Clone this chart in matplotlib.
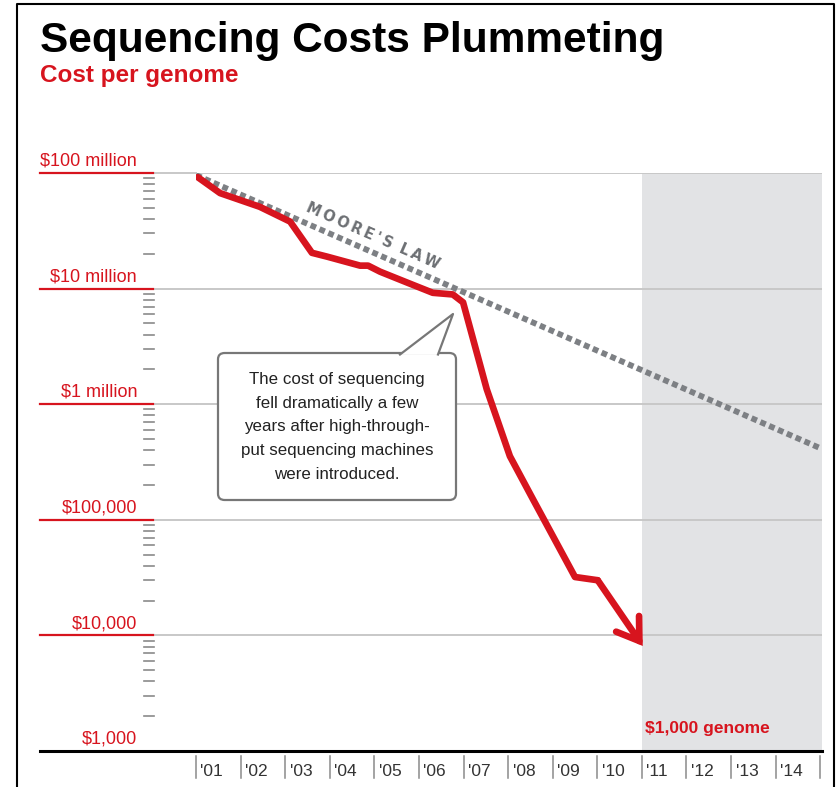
import numpy as np
import matplotlib
matplotlib.use('Agg')
from matplotlib import pyplot as plt
from matplotlib import transforms
from matplotlib.patches import FancyBboxPatch, Polygon
from matplotlib.lines import Line2D

# cost per genome
cost_years = [2001.04, 2001.54, 2002.43, 2003.11, 2003.6, 2003.94, 2004.68, 2004.86,
              2005.13, 2005.73, 2006.31, 2006.76, 2006.99, 2007.52, 2008.04, 2008.56,
              2009.5, 2010.01, 2011.02]
cost = [92e6, 67e6, 51e6, 38e6, 20.4e6, 18.9e6, 15.8e6, 15.8e6,
        14e6, 11.3e6, 9.2e6, 8.9e6, 7.6e6, 1.35e6, 355e3, 150e3,
        32e3, 30e3, 8.1e3]

# Moore's law trend line
moore_years = [2001.0, 2015.04]
moore_cost = [96e6, 4.1e5]

tick_years = list(range(2001, 2016))
tick_labels = ["'%02d" % (y - 2000) for y in range(2001, 2015)]
y_values = [1e8, 1e7, 1e6, 1e5, 1e4, 1e3]
y_labels = ['$100 million', '$10 million', '$1 million', '$100,000', '$10,000', '$1,000']
shade_from = 2011

note = ("The cost of sequencing\nfell dramatically a few\nyears after high-through-\n"
        "put sequencing machines\nwere introduced.")

RED = '#d7141e'
GRID = '#c8c8c8'
W, H = 838, 787

plt.rcParams['font.family'] = ['Liberation Sans', 'DejaVu Sans']

fig = plt.figure(figsize=(W / 100, H / 100), dpi=100)


def fx(x):
    return x / W


def fy(y):
    return 1 - y / H


ax = fig.add_axes([fx(196), fy(751), fx(822) - fx(196), fy(173) - fy(751)])
ax.set_yscale('log')
ax.set_xlim(2001, 2015.04)
ax.set_ylim(1e3, 1e8)
ax.set_axis_off()

# shaded future area
ax.axvspan(shade_from, 2015.04, color='#e2e3e5', lw=0, zorder=0)

# grid lines, with the red stubs left of the axis
blend = transforms.blended_transform_factory(fig.transFigure, ax.transData)
for v in y_values[:-1]:
    ax.axhline(v, color=GRID, lw=1.4, zorder=1)
    ax.plot([fx(153), fx(196)], [v, v], color=GRID, lw=1.4, transform=blend, clip_on=False)
    ax.plot([fx(40), fx(153)], [v, v], color=RED, lw=1.6, transform=blend, clip_on=False)
ax.plot([fx(40), fx(822)], [1e3, 1e3], color='black', lw=2.2, transform=blend,
        clip_on=False, zorder=5)

# minor log ticks
for d in range(3, 8):
    for m in range(2, 10):
        v = m * 10 ** d
        ax.plot([fx(144), fx(154)], [v, v], color='#8a8a8a', lw=1.2, transform=blend,
                clip_on=False)

for v, lab in zip(y_values, y_labels):
    ax.text(fx(137), v * 1.07, lab, transform=blend, ha='right', va='bottom',
            fontsize=13, color=RED)

# x ticks
xblend = transforms.blended_transform_factory(ax.transData, fig.transFigure)
for yr in tick_years:
    ax.plot([yr, yr], [fy(756), fy(778)], color='#8a8a8a', lw=1.1, transform=xblend,
            clip_on=False)
for yr, lab in zip(tick_years, tick_labels):
    ax.text(yr + 0.1, fy(771), lab, transform=xblend, ha='left', va='center',
            fontsize=12.5, color='#333333')

# Moore's law
ax.plot(moore_years, moore_cost, color='#7d8084', lw=4.2,
        linestyle=(0, (1, 0.65)), dash_capstyle='butt', zorder=3)
fig.text(fx(373), fy(236), "M O O R E ' S   L A W".replace(' ', '\u2009'),
         rotation=-23.8, rotation_mode='anchor',
         ha='center', va='center', fontsize=10.5, fontweight='bold', color='#6c6f73',
         family=['DejaVu Sans'])

# cost line with arrow
ax.plot(cost_years[:-1], cost[:-1], color=RED, lw=4.8, solid_joinstyle='round',
        solid_capstyle='round', zorder=4)
ax.annotate('', xy=(cost_years[-1], cost[-1]), xytext=(cost_years[-2], cost[-2]),
            arrowprops=dict(arrowstyle='->,head_length=0.75,head_width=0.5',
                            color=RED, lw=4.8, mutation_scale=20,
                            shrinkA=0, shrinkB=0, joinstyle='miter'),
            zorder=4)

ax.text(2011.08, 1.55e3, '$1,000 genome', ha='left', va='center', fontsize=12.5,
        fontweight='bold', color=RED)

# callout box
box = FancyBboxPatch((fx(218), fy(500)), fx(456) - fx(218), fy(353) - fy(500),
                     boxstyle='round,pad=0,rounding_size=0.008', transform=fig.transFigure,
                     facecolor='white', edgecolor='#777777', lw=1.6, zorder=6)
fig.patches.append(box)
tail = [(fx(400), fy(354.5)), (fx(453), fy(314)), (fx(438), fy(354.5))]
fig.patches.append(Polygon(tail, closed=True, transform=fig.transFigure,
                           facecolor='white', edgecolor='none', zorder=7))
fig.lines.append(Line2D([p[0] for p in tail], [p[1] for p in tail],
                        transform=fig.transFigure, color='#777777', lw=1.6, zorder=8))
fig.text(fx(337), fy(427), note, ha='center', va='center', fontsize=12.2,
         color='#222222', linespacing=1.72, zorder=9)

# titles
fig.text(fx(40), fy(52), 'Sequencing Costs Plummeting', ha='left', va='baseline',
         fontsize=30.5, fontweight='bold', color='black')
fig.text(fx(40), fy(82), 'Cost per genome', ha='left', va='baseline',
         fontsize=17.5, fontweight='bold', color=RED)

# frame
fig.lines.append(Line2D([fx(17), fx(17), fx(834), fx(834)], [0, fy(4), fy(4), 0],
                        transform=fig.transFigure, color='black', lw=1.5))

fig.savefig('out.png', dpi=100)
